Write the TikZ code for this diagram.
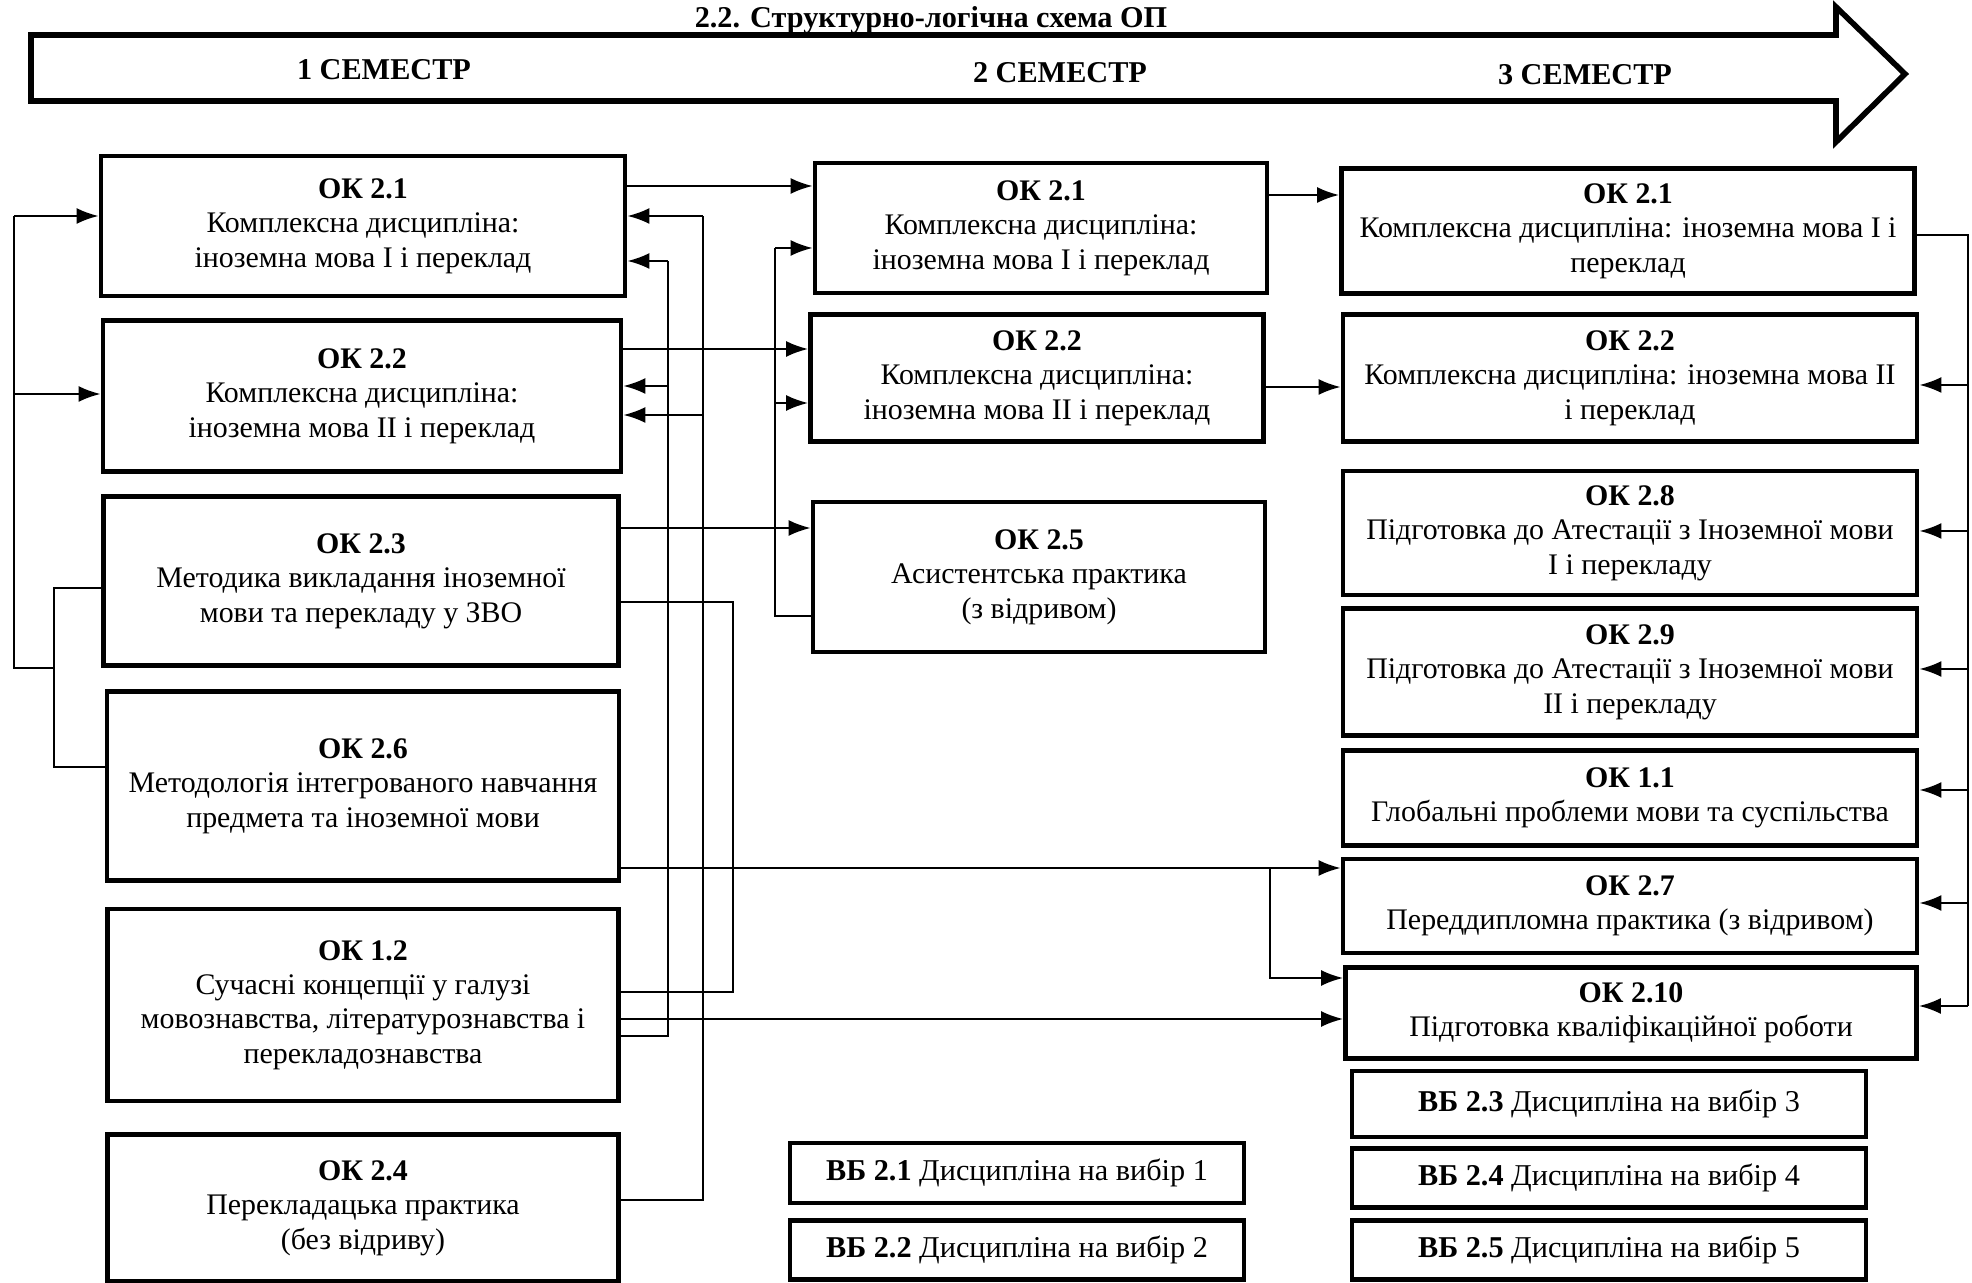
\documentclass[tikz,border=0pt]{standalone}
\usepackage{fontspec}
\setmainfont{Liberation Serif}
\usetikzlibrary{arrows.meta,positioning}

\begin{document}
\begin{tikzpicture}[x=0.01cm,y=-0.01cm]
\tikzset{box/.style={draw,line width=1.3pt,align=center,inner sep=1pt,font=\fontsize{8.5}{9.8}\selectfont},
  vbox/.style={box,font=\fontsize{8.6}{10}\selectfont},
  ln/.style={line width=0.6pt},
  arr/.style={ln,-{Latex[length=2.2mm,width=1.6mm]}},
  sem/.style={font=\bfseries\fontsize{8.6}{10}\selectfont}}
\useasboundingbox (0,0) rectangle (1972,1283);
\draw[line width=1.6pt] (31,35) -- (1836,35) -- (1836,7) -- (1905,74) -- (1836,142) -- (1836,101) -- (31,101) -- cycle;
\node[sem] (title) at (931,20) {2.2. Структурно-логічна схема ОП};
\node[sem] (s1) at (384,70) {1 СЕМЕСТР};
\node[sem] (s2) at (1060,73) {2 СЕМЕСТР};
\node[sem] (s3) at (1585,75) {3 СЕМЕСТР};

\node[box,minimum width=5.24cm,minimum height=1.40cm] (a1) at (363,226) {\textbf{ОК 2.1}\\Комплексна дисципліна:\\іноземна мова I і переклад};
\node[box,minimum width=5.18cm,minimum height=1.51cm] (a2) at (362,396) {\textbf{ОК 2.2}\\Комплексна дисципліна:\\іноземна мова II і переклад};
\node[box,minimum width=5.15cm,minimum height=1.69cm] (a3) at (361,581) {\textbf{ОК 2.3}\\Методика викладання іноземної\\мови та перекладу у ЗВО};
\node[box,minimum width=5.12cm,minimum height=1.89cm] (a4) at (363,786) {\textbf{ОК 2.6}\\Методологія інтегрованого навчання\\предмета та іноземної мови};
\node[box,minimum width=5.11cm,minimum height=1.92cm] (a5) at (363,1005) {\textbf{ОК 1.2}\\Сучасні концепції у галузі\\мовознавства, літературознавства і\\перекладознавства};
\node[box,minimum width=5.11cm,minimum height=1.47cm] (a6) at (363,1208) {\textbf{ОК 2.4}\\Перекладацька практика\\(без відриву)};

\node[box,minimum width=4.52cm,minimum height=1.30cm] (b1) at (1041,228) {\textbf{ОК 2.1}\\Комплексна дисципліна:\\іноземна мова I і переклад};
\node[box,minimum width=4.53cm,minimum height=1.27cm] (b2) at (1037,378) {\textbf{ОК 2.2}\\Комплексна дисципліна:\\іноземна мова II і переклад};
\node[box,minimum width=4.52cm,minimum height=1.50cm] (b3) at (1039,577) {\textbf{ОК 2.5}\\Асистентська практика\\(з відривом)};
\node[vbox,minimum width=4.54cm,minimum height=0.60cm] (b4) at (1017,1173) {\textbf{ВБ 2.1} Дисципліна на вибір 1};
\node[vbox,minimum width=4.54cm,minimum height=0.59cm] (b5) at (1017,1250) {\textbf{ВБ 2.2} Дисципліна на вибір 2};

\node[box,minimum width=5.73cm,minimum height=1.25cm] (c1) at (1628,231) {\textbf{ОК 2.1}\\Комплексна дисципліна: іноземна мова I і\\переклад};
\node[box,minimum width=5.74cm,minimum height=1.27cm] (c2) at (1630,378) {\textbf{ОК 2.2}\\Комплексна дисципліна: іноземна мова II\\і переклад};
\node[box,minimum width=5.74cm,minimum height=1.24cm] (c3) at (1630,533) {\textbf{ОК 2.8}\\Підготовка до Атестації з Іноземної мови\\I і перекладу};
\node[box,minimum width=5.74cm,minimum height=1.27cm] (c4) at (1630,672) {\textbf{ОК 2.9}\\Підготовка до Атестації з Іноземної мови\\II і перекладу};
\node[box,minimum width=5.74cm,minimum height=0.95cm] (c5) at (1630,798) {\textbf{ОК 1.1}\\Глобальні проблеми мови та суспільства};
\node[box,minimum width=5.74cm,minimum height=0.94cm] (c6) at (1630,906) {\textbf{ОК 2.7}\\Переддипломна практика (з відривом)};
\node[box,minimum width=5.71cm,minimum height=0.91cm] (c7) at (1631,1013) {\textbf{ОК 2.10}\\Підготовка кваліфікаційної роботи};
\node[vbox,minimum width=5.14cm,minimum height=0.66cm] (c8) at (1609,1104) {\textbf{ВБ 2.3} Дисципліна на вибір 3};
\node[vbox,minimum width=5.14cm,minimum height=0.59cm] (c9) at (1609,1178) {\textbf{ВБ 2.4} Дисципліна на вибір 4};
\node[vbox,minimum width=5.14cm,minimum height=0.59cm] (c10) at (1609,1250) {\textbf{ВБ 2.5} Дисципліна на вибір 5};

\draw[ln] (a3.west|-0,588) -- (54,588) -- (54,767) -- (a4.west|-0,767);
\draw[ln] (54,668) -- (14,668) -- (14,216);
\draw[arr] (14,216) -- (a1.west|-0,216);
\draw[arr] (14,394) -- (a2.west|-0,394);

\draw[arr] (a1.east|-0,186) -- (b1.west|-0,186);
\draw[arr] (a2.east|-0,349) -- (b2.west|-0,349);
\draw[arr] (a3.east|-0,528) -- (b3.west|-0,528);
\draw[ln] (b3.west|-0,616) -- (775,616) -- (775,248);
\draw[arr] (775,248) -- (b1.west|-0,248);
\draw[arr] (775,403) -- (b2.west|-0,403);
\draw[ln] (a6.east|-0,1200) -- (703,1200) -- (703,216);
\draw[arr] (703,216) -- (a1.east|-0,216);
\draw[arr] (703,415) -- (a2.east|-0,415);
\draw[ln] (a5.east|-0,1036) -- (668,1036) -- (668,261);
\draw[arr] (668,261) -- (a1.east|-0,261);
\draw[arr] (668,386) -- (a2.east|-0,386);
\draw[ln] (a3.east|-0,602) -- (733,602) -- (733,992) -- (a5.east|-0,992);

\draw[arr] (a4.east|-0,868) -- (c6.west|-0,868);
\draw[arr] (1270,868) -- (1270,978) -- (c7.west|-0,978);
\draw[arr] (a5.east|-0,1019) -- (c7.west|-0,1019);
\draw[arr] (b1.east|-0,195) -- (c1.west|-0,195);
\draw[arr] (b2.east|-0,387) -- (c2.west|-0,387);

\draw[ln] (c1.east|-0,235) -- (1968,235) -- (1968,1006);
\draw[arr] (1968,385) -- (c2.east|-0,385);
\draw[arr] (1968,531) -- (c3.east|-0,531);
\draw[arr] (1968,669) -- (c4.east|-0,669);
\draw[arr] (1968,790) -- (c5.east|-0,790);
\draw[arr] (1968,903) -- (c6.east|-0,903);
\draw[arr] (1968,1006) -- (c7.east|-0,1006);
\end{tikzpicture}
\end{document}
